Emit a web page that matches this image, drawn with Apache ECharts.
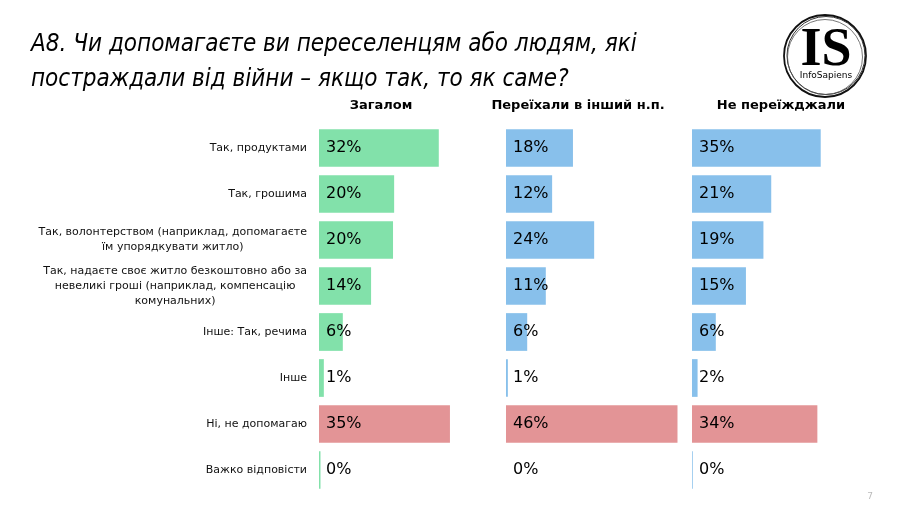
<!DOCTYPE html>
<html>
<head>
<meta charset="utf-8">
<script src="https://cdn.jsdelivr.net/npm/echarts@6/dist/echarts.min.js"></script>
<style>
html,body{margin:0;padding:0;background:#fff;}
#chart{width:905px;height:509px;}
</style>
</head>
<body>
<div id="chart"></div>
<script>
const titleText = 'А8. Чи допомагаєте ви переселенцям або людям, які\nпостраждали від війни – якщо так, то як саме?';
const panelHeaders = ['Загалом', 'Переїхали в інший н.п.', 'Не переїжджали'];
const categories = [
  'Так, продуктами',
  'Так, грошима',
  'Так, волонтерством (наприклад, допомагаєте\nїм упорядкувати житло)',
  'Так, надаєте своє житло безкоштовно або за\nневеликі гроші (наприклад, компенсацію\nкомунальних)',
  'Інше: Так, речима',
  'Інше',
  'Ні, не допомагаю',
  'Важко відповісти'
];
const zagalom = [32.2, 20.2, 19.9, 14.0, 6.4, 1.3, 35.2, 0.4];
const pereikhaly = [18.0, 12.4, 23.7, 10.7, 5.7, 0.5, 46.1, 0];
const nePereizhdzhaly = [34.6, 21.3, 19.2, 14.5, 6.4, 1.5, 33.7, 0.2];
const negativeCategory = 'Ні, не допомагаю';
const pageNumber = '7';

const seriesData = [zagalom, pereikhaly, nePereizhdzhaly];
const baseColors = ['#82E1AA', '#88C0EB', '#88C0EB'];
const negColor = '#E39496';
const gridLefts = [319, 506, 692];
const headerCenters = [381, 578, 781];

const chart = echarts.init(document.getElementById('chart'));

const grids = gridLefts.map(l => ({left: l, width: 186, top: 125, height: 368}));
const xAxes = grids.map((g, i) => ({
  type: 'value', gridIndex: i, min: 0, max: 50, show: false
}));
const yAxes = grids.map((g, i) => ({
  type: 'category', gridIndex: i, data: categories, inverse: true,
  axisLine: {show: false}, axisTick: {show: false}, splitLine: {show: false},
  axisLabel: i === 0 ? {
    show: true, margin: 12, align: 'right',
    formatter: v => v.split('\n').map(s => '{c|' + s + '}').join('\n'),
    rich: {c: {align: 'center', fontFamily: 'DejaVu Sans', fontSize: 11, lineHeight: 15, color: '#111'}}
  } : {show: false}
}));

const series = seriesData.map((arr, i) => ({
  type: 'bar', xAxisIndex: i, yAxisIndex: i,
  data: arr,
  barCategoryGap: '18%',
  silent: true,
  itemStyle: {
    color: p => categories[p.dataIndex] === negativeCategory ? negColor : baseColors[i]
  },
  label: {
    show: true, position: 'insideLeft', distance: 7,
    formatter: p => Math.round(p.value) + '%',
    fontFamily: 'DejaVu Sans', fontSize: 16, color: '#000'
  }
}));

const graphic = [];
panelHeaders.forEach((h, i) => {
  graphic.push({type: 'text', x: headerCenters[i], y: 106,
    style: {text: h, align: 'center', verticalAlign: 'middle',
      font: 'bold 13px "DejaVu Sans"', fill: '#000'}});
});
// logo
graphic.push({type: 'circle', shape: {cx: 825, cy: 56, r: 41}, style: {fill: '#fff', stroke: '#111', lineWidth: 1.8}});
graphic.push({type: 'circle', shape: {cx: 826, cy: 55.5, r: 39}, style: {fill: 'none', stroke: '#333', lineWidth: 1}});
graphic.push({type: 'circle', shape: {cx: 825, cy: 57, r: 37.5}, style: {fill: 'none', stroke: '#555', lineWidth: 0.8}});
graphic.push({type: 'text', x: 826, y: 51, style: {text: 'IS', align: 'center', verticalAlign: 'middle',
  font: 'bold 54px "Liberation Serif"', fill: '#000'}});
graphic.push({type: 'text', x: 826, y: 76, style: {text: 'InfoSapiens', align: 'center', verticalAlign: 'middle',
  font: '9px "DejaVu Sans"', fill: '#000'}});
graphic.push({type: 'text', x: 870, y: 497, style: {text: pageNumber, align: 'center', verticalAlign: 'middle',
  font: '9px "DejaVu Sans"', fill: '#bbb'}});

chart.setOption({
  animation: false,
  backgroundColor: '#fff',
  title: {
    text: titleText, left: 26, top: 22,
    textStyle: {fontFamily: '"DejaVu Sans Condensed", "DejaVu Sans"', fontStyle: 'italic', fontWeight: 'normal',
      fontSize: 24, lineHeight: 35, color: '#000'}
  },
  grid: grids, xAxis: xAxes, yAxis: yAxes, series: series, graphic: graphic
});
</script>
</body>
</html>
